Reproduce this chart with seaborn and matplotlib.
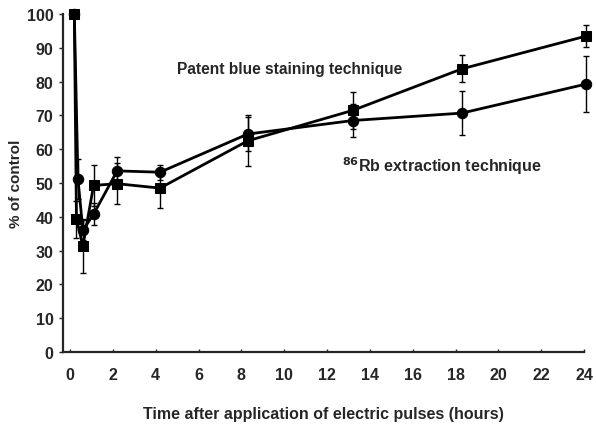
import numpy as np
import pandas as pd
import matplotlib
matplotlib.use('Agg')
import matplotlib.pyplot as plt
import seaborn as sns

# ------------------------------------------------------------
# data
# ------------------------------------------------------------
t_blue = [0.2, 0.3, 0.6, 1.1, 2.2, 4.2, 8.3, 13.2, 18.3, 24.1]
v_blue = [100, 39.3, 31.4, 49.3, 49.8, 48.5, 62.5, 71.5, 83.8, 93.5]
e_blue = [0, 5.5, 8.0, 6.0, 6.0, 6.0, 7.5, 5.5, 4.0, 3.3]

t_rb = [0.2, 0.37, 0.6, 1.1, 2.2, 4.2, 8.3, 13.2, 18.3, 24.1]
v_rb = [100, 51.2, 36.0, 40.8, 53.6, 53.2, 64.5, 68.5, 70.7, 79.3]
e_rb = [0, 6.0, 3.0, 3.2, 4.2, 2.2, 5.0, 5.0, 6.6, 8.3]

x_ticks = list(range(0, 25, 2))
y_ticks = list(range(0, 101, 10))

df = pd.concat([
    pd.DataFrame({'time': t_blue, 'pct': v_blue, 'method': 'blue'}),
    pd.DataFrame({'time': t_rb, 'pct': v_rb, 'method': 'rb'}),
])

sns.set_style("ticks")
plt.rcParams['font.family'] = ['Liberation Sans', 'DejaVu Sans']

fig = plt.figure(figsize=(5.96, 4.31), dpi=100)
ax = fig.add_axes([0.106, 0.181, 0.874, 0.784])

# error bars first, then lines + markers on top
ax.errorbar(t_blue, v_blue, yerr=e_blue, fmt='none', ecolor='black',
            elinewidth=1.0, capsize=2.5, capthick=1.0, clip_on=False)
ax.errorbar(t_rb, v_rb, yerr=e_rb, fmt='none', ecolor='black',
            elinewidth=1.0, capsize=2.5, capthick=1.0, clip_on=False)

sns.lineplot(data=df, x='time', y='pct', style='method', markers={'blue': 's', 'rb': 'o'},
             dashes=False, color='black', linewidth=2.0, markersize=7.5,
             markeredgecolor='black', legend=False, sort=False, ax=ax, clip_on=False)

ax.set_xlim(-0.32, 23.8)
ax.set_ylim(0, 100)
ax.set_xticks(x_ticks)
ax.set_yticks(y_ticks)
ax.tick_params(axis='x', direction='in', length=2, width=1, pad=11, labelsize=11.5)
ax.tick_params(axis='y', direction='out', length=3, width=1, pad=4, labelsize=11.5)
for lab in ax.get_xticklabels() + ax.get_yticklabels():
    lab.set_fontweight('bold')

sns.despine(ax=ax)
for sp in ['left', 'bottom']:
    ax.spines[sp].set_linewidth(1.6)

ax.set_xlabel('Time after application of electric pulses (hours)', fontweight='bold',
              fontsize=11.5, labelpad=17)
ax.set_ylabel('% of control', fontweight='bold', fontsize=11, labelpad=3)

ax.text(5.0, 82.5, 'Patent blue staining technique', fontweight='bold', fontsize=11.2)
ax.text(12.7, 53.5, r'$^{\mathbf{86}}$Rb extraction technique', fontweight='bold', fontsize=11.5)

plt.savefig("out.png", dpi=100)
